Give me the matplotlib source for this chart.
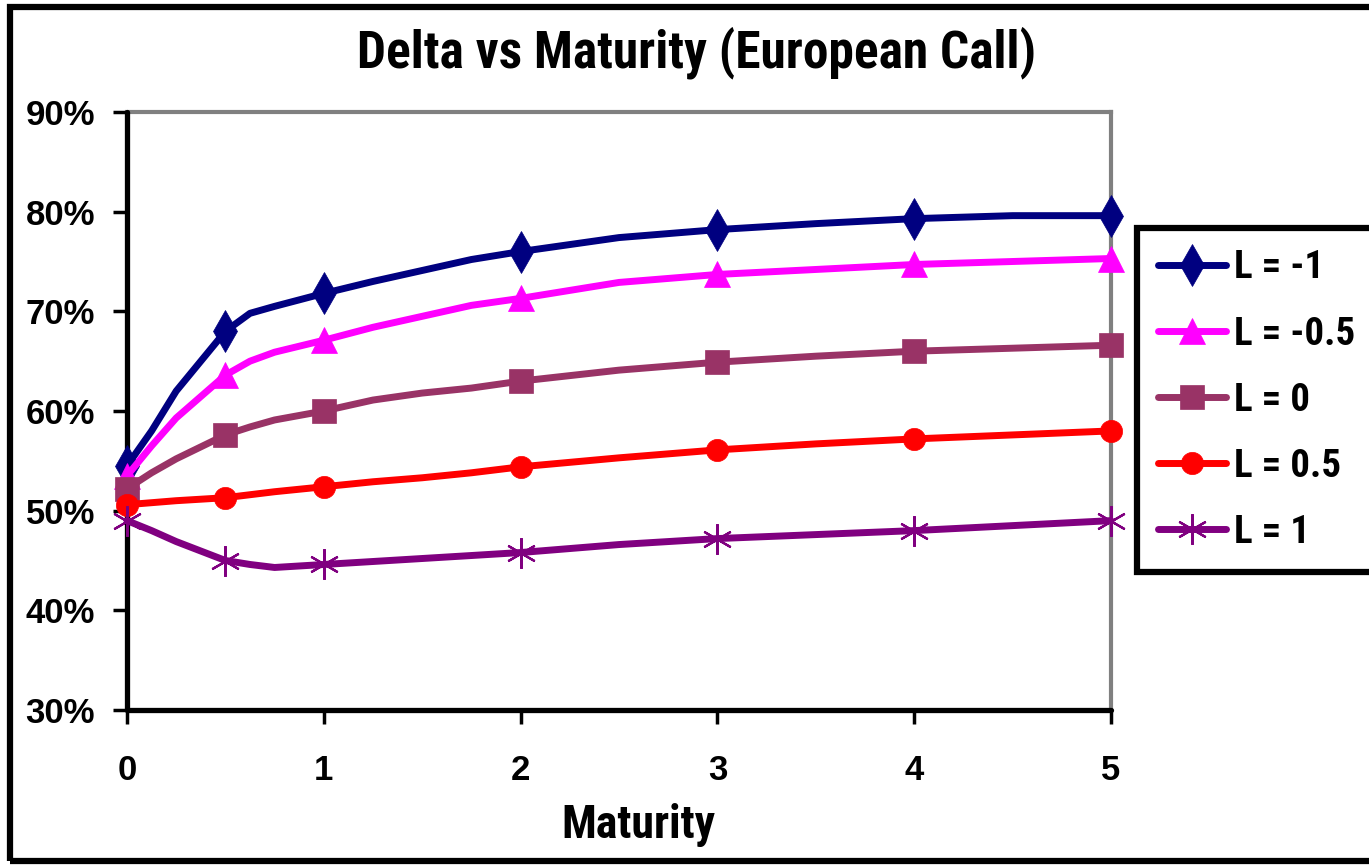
import matplotlib
matplotlib.use('Agg')
import matplotlib.pyplot as plt                 # for plotting
from matplotlib.ticker import PercentFormatter  # for % tick labels
from matplotlib.patches import Rectangle        # for the chart border


# **** data ****
maturity = [0, 0.125, 0.25, 0.5, 0.625, 0.75, 1, 1.25, 1.5, 1.75,
            2, 2.5, 3, 3.5, 4, 4.5, 5]
marker_idx = [0, 3, 6, 10, 12, 14, 16]     # points at 0, 0.5, 1, 2, 3, 4, 5

delta_m1 = [54.5, 58.0, 62.0, 68.0, 69.8, 70.5, 71.8, 73.0, 74.1, 75.2,
            76.0, 77.4, 78.2, 78.8, 79.3, 79.6, 79.6]
delta_m05 = [53.5, 56.5, 59.3, 63.6, 65.0, 65.9, 67.1, 68.4, 69.5, 70.6,
             71.3, 72.9, 73.7, 74.2, 74.7, 75.0, 75.3]
delta_0 = [52.2, 53.8, 55.2, 57.6, 58.4, 59.1, 60.0, 61.1, 61.8, 62.3,
           63.0, 64.1, 64.9, 65.5, 66.0, 66.3, 66.6]
delta_05 = [50.6, 50.8, 51.0, 51.3, 51.6, 51.9, 52.4, 52.9, 53.3, 53.8,
            54.4, 55.3, 56.1, 56.7, 57.2, 57.6, 58.0]
delta_1 = [49.0, 48.0, 46.9, 45.0, 44.6, 44.3, 44.6, 44.9, 45.2, 45.5,
           45.8, 46.6, 47.2, 47.6, 48.0, 48.5, 49.0]

labels = ['L = -1', 'L = -0.5', 'L = 0', 'L = 0.5', 'L = 1']
x_ticks = [0, 1, 2, 3, 4, 5]
y_ticks = [30, 40, 50, 60, 70, 80, 90]


# **** fonts ****
plt.rcParams['font.family'] = ['Roboto Condensed', 'Liberation Sans', 'DejaVu Sans']
plt.rcParams['font.weight'] = 'bold'

# **** figure & axes ****
fig = plt.figure(figsize=(13.69, 8.65), dpi=100)
ax = fig.add_axes([127 / 1369, 1 - 710 / 865, (1111 - 127) / 1369, (710 - 112) / 865])

# **** series ****
series = [delta_m1, delta_m05, delta_0, delta_05, delta_1]
colors = ['#000080', '#FF00FF', '#993366', '#FF0000', '#800080']
markers = ['d', '^', 's', 'o', (6, 2, 0)]
msizes = [21, 19, 17, 16, 22]

for ys, lab, col, mk, ms in zip(series, labels, colors, markers, msizes):
    is_star = isinstance(mk, tuple)
    ax.plot(maturity, ys, color=col, lw=5, label=lab,
            marker=mk, markevery=marker_idx, markersize=ms,
            markerfacecolor=col, markeredgecolor=col,
            markeredgewidth=1.6 if is_star else 0.5,
            solid_capstyle='round', solid_joinstyle='round', clip_on=False,
            zorder=3)

# **** axes styling ****
ax.set_xlim(0, 5)
ax.set_ylim(30, 90)
ax.set_xticks(x_ticks)
ax.set_yticks(y_ticks)
ax.yaxis.set_major_formatter(PercentFormatter(decimals=0))

for side in ['left', 'bottom']:
    ax.spines[side].set_color('black')
    ax.spines[side].set_linewidth(3.8)
    ax.spines[side].set_capstyle('round')
for side in ['top', 'right']:
    ax.spines[side].set_color('#808080')
    ax.spines[side].set_linewidth(3.0)
    ax.spines[side].set_zorder(1)

ax.tick_params(axis='both', direction='out', length=10, width=2.5, color='black')
ax.tick_params(axis='y', pad=13)
ax.tick_params(axis='x', pad=22)
for lbl in ax.get_xticklabels() + ax.get_yticklabels():
    lbl.set_fontfamily(['Liberation Sans', 'DejaVu Sans'])
    lbl.set_fontsize(25)
    lbl.set_fontweight('bold')

ax.set_xlabel('Maturity', fontsize=33, fontweight='bold')
ax.xaxis.set_label_coords((638 - 127) / 984, -(803 - 710) / 598)
fig.suptitle('Delta vs Maturity (European Call)', fontsize=37, fontweight='bold',
             x=697 / 1369, y=1 - 53 / 865, va='center')

# **** legend ****
leg = ax.legend(loc='upper left', bbox_to_anchor=(1137 / 1369, 1 - 228 / 865),
                bbox_transform=fig.transFigure, fontsize=28, frameon=True,
                fancybox=False, edgecolor='black', framealpha=1,
                handlelength=1.75, handletextpad=0.2, labelspacing=0.75,
                borderpad=0.55, borderaxespad=0)
leg.get_frame().set_linewidth(4.5)
for txt in leg.get_texts():
    txt.set_fontweight('bold')

# **** outer chart border ****
fig.patches.append(Rectangle((10 / 1369, 4 / 865), 1.2, 1 - 11 / 865,
                             transform=fig.transFigure, fill=False,
                             edgecolor='black', linewidth=4.5, clip_on=False))

fig.savefig('out.png', dpi=100)
